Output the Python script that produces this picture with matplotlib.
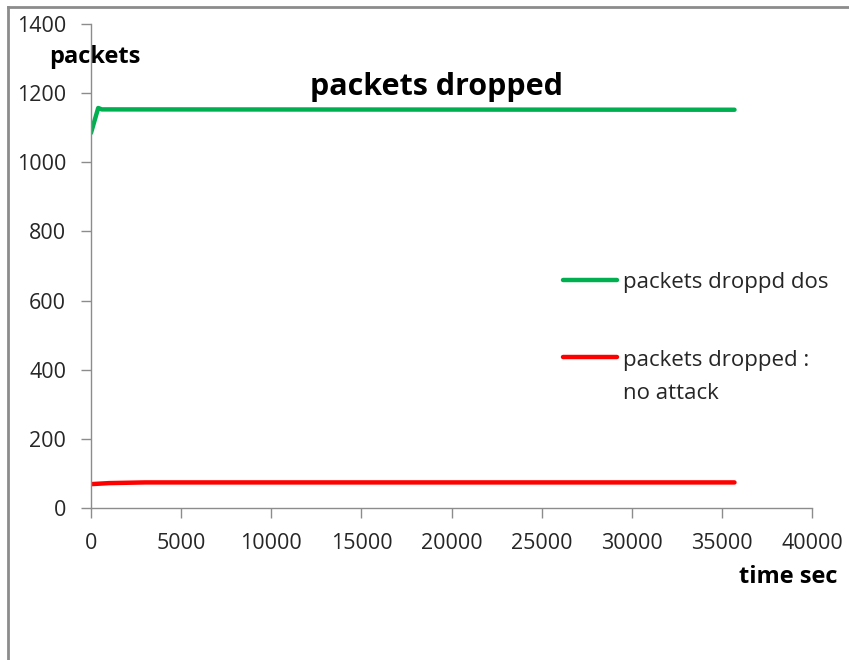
import matplotlib
matplotlib.use("Agg")
import matplotlib.pyplot as plt
from matplotlib.lines import Line2D

# data
dos_time = [0, 400, 600, 35700]
dos_dropped = [1085, 1157, 1153, 1152]
normal_time = [0, 1000, 3000, 35700]
normal_dropped = [69, 72, 74, 74]

x_ticks = [0, 5000, 10000, 15000, 20000, 25000, 30000, 35000, 40000]
y_ticks = [0, 200, 400, 600, 800, 1000, 1200, 1400]

_AXIS = "#8c8c8c"
_TEXT = "#262626"

plt.rcParams["font.family"] = ["Open Sans", "DejaVu Sans"]

fig = plt.figure(figsize=(8.49, 6.6), dpi=100)
ax = fig.add_axes([91 / 849, 1 - 508 / 660, (812 - 91) / 849, (508 - 24) / 660])

ax.plot(dos_time, dos_dropped, color="#00b050", linewidth=3.2,
        solid_capstyle="round", label="packets droppd dos")
ax.plot(normal_time, normal_dropped, color="#ff0000", linewidth=3.2,
        solid_capstyle="round", label="packets dropped :\nno attack")

ax.set_xlim(0, 40000)
ax.set_ylim(0, 1400)
ax.set_xticks(x_ticks)
ax.set_yticks(y_ticks)
ax.tick_params(axis="both", direction="out", length=7, width=1, color=_AXIS,
               labelsize=15.5, labelcolor=_TEXT, pad=11)
for side in ("top", "right"):
    ax.spines[side].set_visible(False)
for side in ("left", "bottom"):
    ax.spines[side].set_color(_AXIS)
    ax.spines[side].set_linewidth(1)

fig.text(436 / 849, 1 - 87 / 660, "packets dropped", fontsize=22, fontweight="bold",
         color="black", ha="center", va="center")
fig.text(95 / 849, 1 - 57 / 660, "packets", fontsize=17, fontweight="bold",
         color="black", ha="center", va="center")
fig.text(788 / 849, 1 - 577 / 660, "time sec", fontsize=17, fontweight="bold",
         color="black", ha="center", va="center")

leg = ax.legend(loc="upper left", bbox_to_anchor=(563 / 849, 1 - 272 / 660),
                bbox_transform=fig.transFigure, frameon=False, fontsize=16,
                borderpad=0, borderaxespad=0, handlelength=2.45,
                handletextpad=0.25, labelspacing=2.55, labelcolor=_TEXT)
for t in leg.get_texts():
    t.set_linespacing(1.76)
# keep each handle level with the first line of its label
for column in leg._legend_handle_box.get_children():
    for item in column.get_children():
        item.align = "top"

# outer chart-area border (top and left edges only are visible)
fig.add_artist(Line2D([8 / 849, 8 / 849], [0, 1 - 7 / 660], color=_AXIS,
                      linewidth=2, transform=fig.transFigure))
fig.add_artist(Line2D([8 / 849, 1], [1 - 7 / 660, 1 - 7 / 660], color=_AXIS,
                      linewidth=2, transform=fig.transFigure))

fig.savefig("out.png", dpi=100)
